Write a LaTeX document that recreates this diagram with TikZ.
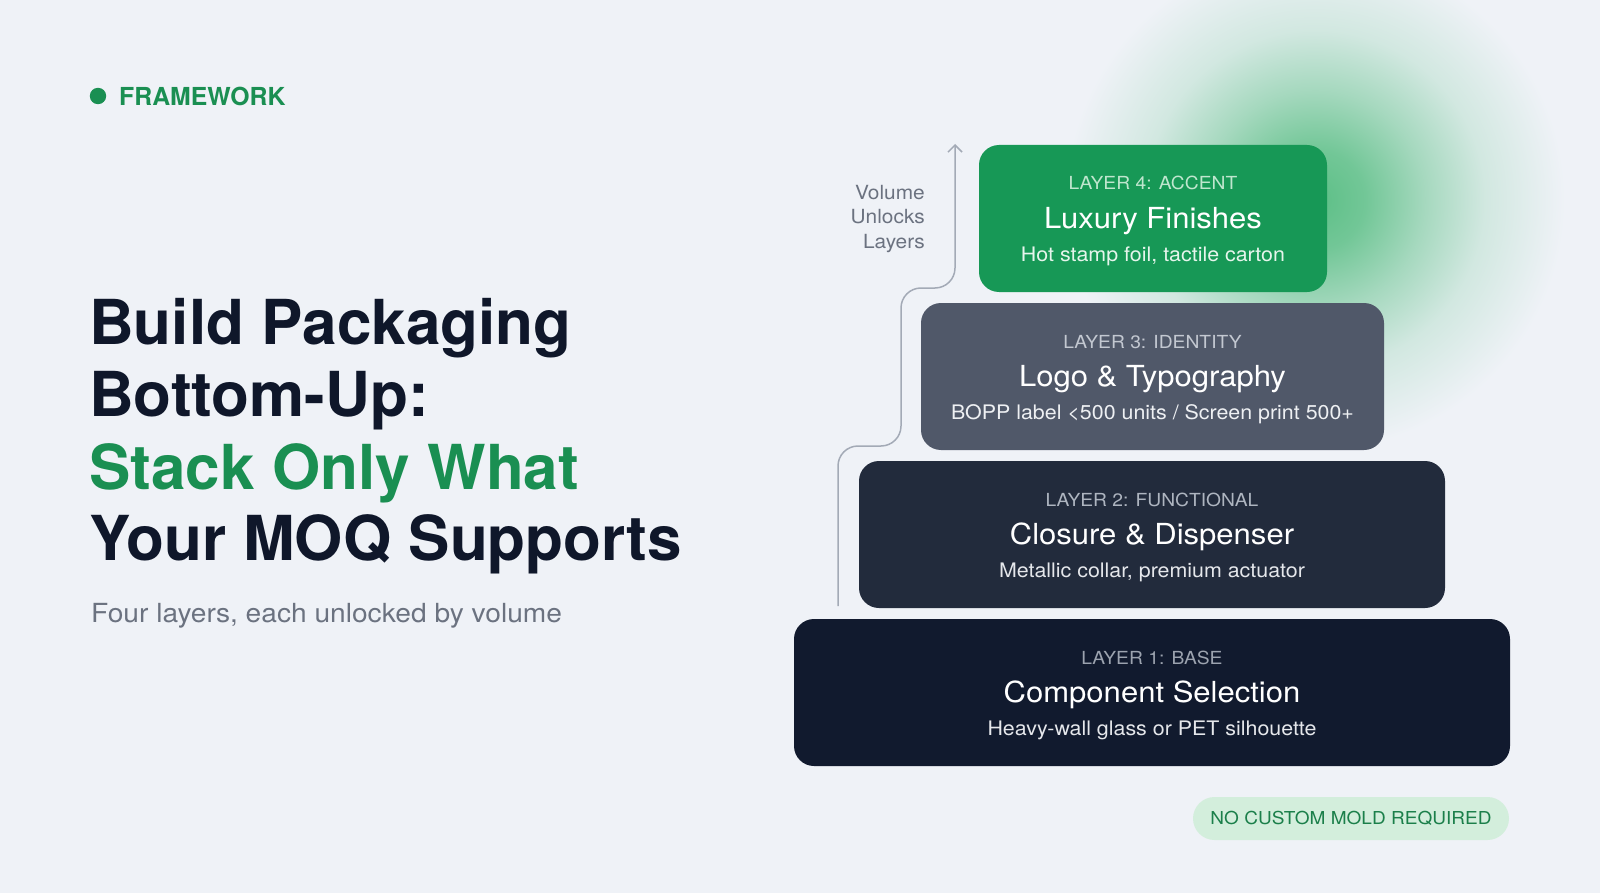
\documentclass[tikz,border=0pt]{standalone}
\usepackage{fontspec}
\setmainfont{TeX Gyre Heros}[FakeStretch=1.07]
\newfontfamily\hfont{TeX Gyre Heros}
\usetikzlibrary{arrows.meta}
\definecolor{bg}{HTML}{EFF2F7}
\definecolor{glowc}{HTML}{5CBF86}
\definecolor{navy}{HTML}{0F172A}
\definecolor{hgreen}{HTML}{1A8F52}
\definecolor{cfour}{HTML}{179856}
\definecolor{cthree}{HTML}{505869}
\definecolor{ctwo}{HTML}{222B3C}
\definecolor{cone}{HTML}{111A2E}
\definecolor{subgray}{HTML}{6B7280}
\definecolor{linegray}{HTML}{A3AAB6}
\definecolor{pillfill}{HTML}{D3EEDC}
\definecolor{pilltext}{HTML}{1B7F4A}
\definecolor{lblfour}{HTML}{BFE6CE}
\definecolor{subfour}{HTML}{E6F5EC}
\definecolor{lblthree}{HTML}{C3C8D1}
\definecolor{subthree}{HTML}{EEF0F3}
\definecolor{lbltwo}{HTML}{AEB5C0}
\definecolor{subtwo}{HTML}{E5E7EB}
\definecolor{lblone}{HTML}{9CA3AF}
\definecolor{subone}{HTML}{E5E7EB}
\pgfdeclareradialshading{glowshade}{\pgfpoint{0bp}{0bp}}{color(0bp)=(glowc); color(5bp)=(glowc!85!bg); color(11bp)=(glowc!50!bg); color(17bp)=(glowc!20!bg); color(25bp)=(bg); color(50bp)=(bg)}
\begin{document}
\begin{tikzpicture}[x=1pt,y=-1pt,
  layerbox/.style={rounded corners=20pt, minimum height=147pt, inner sep=0pt},
  lbl/.style={anchor=base, font=\fontsize{18}{20}\selectfont},
  ttl/.style={anchor=base, text=white, font=\fontsize{29}{32}\selectfont},
  sub/.style={anchor=base, font=\fontsize{20}{22}\selectfont},
  head/.style={anchor=base west, text=navy, font=\hfont\bfseries\fontsize{62}{66}\selectfont}]
\fill[bg] (0,0) rectangle (1600,893);
\useasboundingbox (0,0) rectangle (1600,893);
\shade[shading=glowshade] (1315,200) circle (250pt);

% header tag
\fill[hgreen] (98,96) circle (8.2pt);
\node[anchor=base west, text=hgreen, font=\hfont\bfseries\fontsize{24.8}{26}\selectfont, inner sep=0pt] (tag) at (119,105.5) {FRAMEWORK};

% heading
\node[head, inner sep=0pt] (h1) at (89,344) {Build Packaging};
\node[head, inner sep=0pt] (h2) at (89,416) {Bottom-Up:};
\node[head, inner sep=0pt, text=hgreen] (h3) at (89,489) {Stack Only What};
\node[head, inner sep=0pt] (h4) at (89,560) {Your MOQ Supports};
\node[anchor=base west, inner sep=0pt, text=subgray, font=\fontsize{26.3}{28}\selectfont] (hsub) at (91,622) {Four layers, each unlocked by volume};

% layers
\node[layerbox, fill=cfour, minimum width=348pt] (b4) at (1153,218.5) {};
\node[layerbox, fill=cthree, minimum width=463pt] (b3) at (1152.5,376.5) {};
\node[layerbox, fill=ctwo, minimum width=586pt] (b2) at (1152,534.5) {};
\node[layerbox, fill=cone, minimum width=716pt] (b1) at (1152,692.5) {};

\node[lbl, text=lblfour] (l4a) at ([yshift=28.5pt]b4.center) {LAYER 4: ACCENT};
\node[ttl] (l4b) at ([yshift=-10pt]b4.center) {Luxury Finishes};
\node[sub, text=subfour] (l4c) at ([yshift=-43pt]b4.center) {Hot stamp foil, tactile carton};

\node[lbl, text=lblthree] (l3a) at ([yshift=28.5pt]b3.center) {LAYER 3: IDENTITY};
\node[ttl] (l3b) at ([yshift=-10pt]b3.center) {Logo \& Typography};
\node[sub, text=subthree] (l3c) at ([yshift=-43pt]b3.center) {BOPP label <500 units / Screen print 500+};

\node[lbl, text=lbltwo] (l2a) at ([yshift=28.5pt]b2.center) {LAYER 2: FUNCTIONAL};
\node[ttl] (l2b) at ([yshift=-10pt]b2.center) {Closure \& Dispenser};
\node[sub, text=subtwo] (l2c) at ([yshift=-43pt]b2.center) {Metallic collar, premium actuator};

\node[lbl, text=lblone] (l1a) at ([yshift=28.5pt]b1.center) {LAYER 1: BASE};
\node[ttl] (l1b) at ([yshift=-10pt]b1.center) {Component Selection};
\node[sub, text=subone] (l1c) at ([yshift=-43pt]b1.center) {Heavy-wall glass or PET silhouette};

% volume arrow
\coordinate (a0) at (838,606);
\coordinate (a1) at (838,446);
\coordinate (a2) at (901,446);
\coordinate (a3) at (901,288);
\coordinate (a4) at (955,288);
\coordinate (a5) at (955,144);
\draw[linegray, line width=1.5pt, rounded corners=20pt, -{Straight Barb[length=7pt,width=14pt,line width=1.5pt]}]
  (a0) -- (a1) -- (a2) -- (a3) -- (a4) -- (a5);
\node[anchor=east, align=right, text=subgray, inner sep=0pt,
  font=\fontsize{19.5}{24.5}\selectfont] (vol) at (925,219) {Volume\\Unlocks\\Layers};

% badge
\node[fill=pillfill, rounded corners=21.5pt, minimum width=316pt, minimum height=43pt, inner sep=0pt,
  text=pilltext, font=\fontsize{17.8}{19}\selectfont] (badge) at (1351,818.5) {NO CUSTOM MOLD REQUIRED};
\end{tikzpicture}
\end{document}
